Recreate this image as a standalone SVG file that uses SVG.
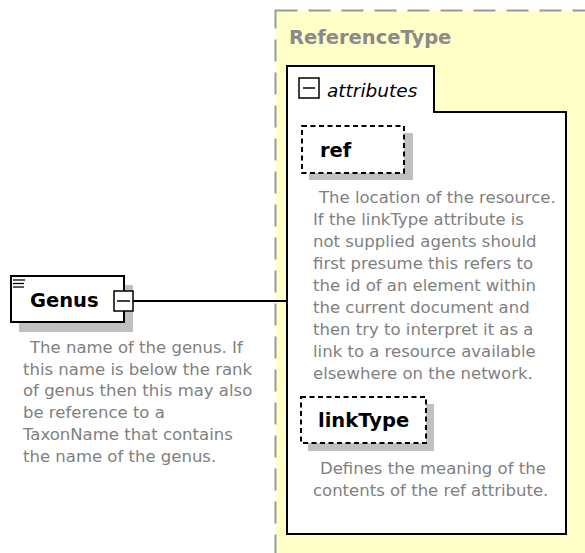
<svg xmlns="http://www.w3.org/2000/svg" width="585" height="553" viewBox="0 0 585 553">
<style>
.bg{fill:#ffffff}
.lbl{font-family:"DejaVu Sans",Verdana,sans-serif;font-weight:bold;font-size:19.5px;fill:#000}
.title{font-family:"DejaVu Sans",Verdana,sans-serif;font-weight:bold;font-size:19.5px;fill:#8a8a8a}
.doc{font-family:"DejaVu Sans",Verdana,sans-serif;font-size:16.5px;fill:#808080}
.ital{font-family:"DejaVu Sans",Verdana,sans-serif;font-style:italic;font-size:18.5px;fill:#000}
.shadow{fill:#c0c0c0}
.box{fill:#fff;stroke:#000;stroke-width:2}
.attr{fill:#fff;stroke:#000;stroke-width:2;stroke-dasharray:5 3.5}
.pm{fill:#fff;stroke:#000;stroke-width:1.5}
</style>
<rect width="585" height="553" fill="#fff"/>
<g id="ReferenceType">
<rect x="275.5" y="10.5" width="330" height="570" fill="#ffffc8" stroke="#999" stroke-width="2" stroke-dasharray="22 11"/>
<text class="title" x="289" y="44">ReferenceType</text>
</g>
<g id="attributes">
<path d="M287,66 H434 V112 H566 V534 H287 Z" fill="#fff" stroke="#000" stroke-width="2"/>
<rect class="pm" x="299" y="78" width="20" height="20"/>
<line x1="303" y1="88" x2="315" y2="88" stroke="#000" stroke-width="1.5"/>
<text class="ital" x="327" y="97">attributes</text>
</g>
<g id="ref">
<rect class="shadow" x="309" y="133" width="104" height="47"/>
<rect class="attr" x="302" y="126" width="102" height="47"/>
<text class="lbl" x="320" y="157">ref</text>
<text class="doc" x="319" y="202.5">The location of the resource.</text>
<text class="doc" x="313" y="224.5">If the linkType attribute is</text>
<text class="doc" x="313" y="246.5">not supplied agents should</text>
<text class="doc" x="313" y="268.5">first presume this refers to</text>
<text class="doc" x="313" y="290.5">the id of an element within</text>
<text class="doc" x="313" y="312.5">the current document and</text>
<text class="doc" x="313" y="334.5">then try to interpret it as a</text>
<text class="doc" x="313" y="356.5">link to a resource available</text>
<text class="doc" x="313" y="378.5">elsewhere on the network.</text>
</g>
<g id="linkType">
<rect class="shadow" x="308" y="404" width="126" height="47"/>
<rect class="attr" x="301" y="397" width="125" height="46"/>
<text class="lbl" x="318" y="427">linkType</text>
<text class="doc" x="320" y="473.5">Defines the meaning of the</text>
<text class="doc" x="313" y="495.5">contents of the ref attribute.</text>
</g>
<g id="connectors">
<line x1="133" y1="301" x2="287" y2="301" stroke="#000" stroke-width="2"/>
</g>
<g id="Genus">
<rect class="shadow" x="19" y="285" width="114" height="47"/>
<rect class="box" x="11" y="276" width="113" height="46"/>
<line x1="13" y1="280" x2="25" y2="280" stroke="#000" stroke-width="1.3"/>
<line x1="13" y1="283.5" x2="24" y2="283.5" stroke="#000" stroke-width="1.3"/>
<line x1="13" y1="287" x2="24" y2="287" stroke="#000" stroke-width="1.3"/>
<text class="lbl" x="30" y="307">Genus</text>
<rect class="pm" x="114" y="291" width="19" height="20"/>
<line x1="117" y1="301" x2="130" y2="301" stroke="#000" stroke-width="1.5"/>
<text class="doc" x="30" y="353">The name of the genus. If</text>
<text class="doc" x="23" y="374.5">this name is below the rank</text>
<text class="doc" x="23" y="396">of genus then this may also</text>
<text class="doc" x="23" y="418">be reference to a</text>
<text class="doc" x="23" y="440">TaxonName that contains</text>
<text class="doc" x="23" y="461.5">the name of the genus.</text>
</g>
</svg>
